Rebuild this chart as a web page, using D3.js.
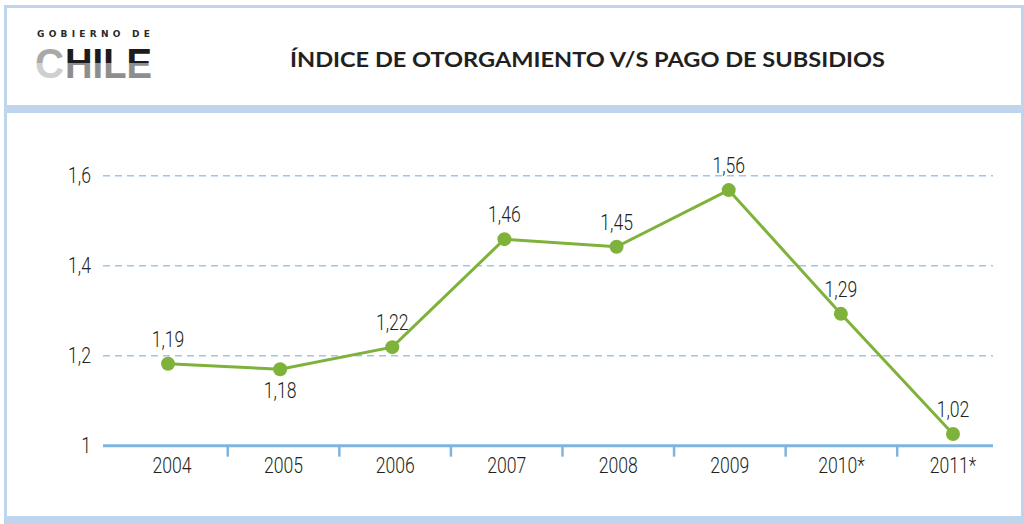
<!DOCTYPE html>
<html>
<head>
<meta charset="utf-8">
<script src="https://cdn.jsdelivr.net/npm/d3@7"></script>
<style>
  html, body { margin: 0; padding: 0; background: #fff; }
  svg { display: block; }
</style>
</head>
<body>
<div id="chart"></div>
<script>
// data
const years = ['2004', '2005', '2006', '2007', '2008', '2009', '2010*', '2011*'];
const indexValues = [1.182, 1.170, 1.219, 1.459, 1.442, 1.568, 1.293, 1.026];
const valueLabels = ['1,19', '1,18', '1,22', '1,46', '1,45', '1,56', '1,29', '1,02'];
const labelSide = ['above', 'below', 'above', 'above', 'above', 'above', 'above', 'above'];
const yTicks = [1, 1.2, 1.4, 1.6];
const yTickLabels = ['1', '1,2', '1,4', '1,6'];
const title = 'ÍNDICE DE OTORGAMIENTO V/S PAGO DE SUBSIDIOS';

function whenDocumentLoaded(action) {
    if (document.readyState === "loading") {
        document.addEventListener("DOMContentLoaded", action);
    } else {
        action();
    }
}

const W = 1024, H = 524;
const frameBlue = '#bed5ed';
const gridBlue = '#9cc7ec';
const axisBlue = '#80b4e0';
const green = '#7fb23b';
const ink = '#231f20';
const numFont = 'Roboto, "DejaVu Sans", sans-serif';

// narrow light text, like the condensed face of the original
function narrowText(parent, x, y, str, anchor, size) {
    return parent.append('g')
        .attr('transform', 'translate(' + x + ',' + y + ') scale(0.8,1)')
        .append('text')
        .attr('x', 0)
        .attr('y', 0)
        .attr('text-anchor', anchor)
        .style('font-family', numFont)
        .style('font-weight', 300)
        .style('font-size', size + 'px')
        .attr('fill', ink)
        .text(str);
}

function drawChart() {
    const svg = d3.select('#chart')
        .append('svg')
        .attr('width', W)
        .attr('height', H);

    // frame: blue background, white header and plot boxes
    svg.append('rect')
        .attr('x', 4).attr('y', 5)
        .attr('width', W - 4).attr('height', H - 5)
        .attr('fill', frameBlue);
    svg.append('rect')
        .attr('x', 7).attr('y', 8)
        .attr('width', 1014).attr('height', 97)
        .attr('fill', '#fff');
    svg.append('rect')
        .attr('x', 7).attr('y', 113)
        .attr('width', 1014).attr('height', 403)
        .attr('fill', '#fff');

    // logo
    const defs = svg.append('defs');
    const gBlack = defs.append('linearGradient')
        .attr('id', 'hileFill')
        .attr('gradientUnits', 'userSpaceOnUse')
        .attr('x1', 0).attr('y1', 47).attr('x2', 0).attr('y2', 78);
    gBlack.append('stop').attr('offset', '0.5').attr('stop-color', '#1c1c1c');
    gBlack.append('stop').attr('offset', '0.5').attr('stop-color', '#8e8e8e');
    const gGrey = defs.append('linearGradient')
        .attr('id', 'cFill')
        .attr('gradientUnits', 'userSpaceOnUse')
        .attr('x1', 0).attr('y1', 47).attr('x2', 0).attr('y2', 78);
    gGrey.append('stop').attr('offset', '0.5').attr('stop-color', '#a9a9a9');
    gGrey.append('stop').attr('offset', '0.5').attr('stop-color', '#cfcfcf');

    svg.append('text')
        .attr('x', 37).attr('y', 36.5)
        .attr('textLength', 113)
        .attr('lengthAdjust', 'spacing')
        .style('font-family', '"DejaVu Sans", sans-serif')
        .style('font-weight', 'bold')
        .style('font-size', '9px')
        .attr('fill', '#2a2a2a')
        .text('GOBIERNO DE');

    const logoFont = '"Liberation Sans", Arial, sans-serif';
    svg.append('text')
        .attr('x', 35).attr('y', 78)
        .attr('textLength', 29)
        .attr('lengthAdjust', 'spacingAndGlyphs')
        .style('font-family', logoFont)
        .style('font-weight', 'bold')
        .style('font-size', '43px')
        .attr('fill', 'url(#cFill)')
        .text('C');
    svg.append('text')
        .attr('x', 65).attr('y', 78)
        .attr('textLength', 87)
        .attr('lengthAdjust', 'spacingAndGlyphs')
        .style('font-family', logoFont)
        .style('font-weight', 'bold')
        .style('font-size', '43px')
        .attr('fill', 'url(#hileFill)')
        .text('HILE');

    // title
    svg.append('text')
        .attr('x', 290).attr('y', 67)
        .attr('textLength', 595)
        .attr('lengthAdjust', 'spacingAndGlyphs')
        .style('font-family', 'Lato, "Open Sans", sans-serif')
        .style('font-weight', 'bold')
        .style('font-size', '20px')
        .attr('fill', ink)
        .text(title);

    // scales
    const x = d3.scalePoint()
        .domain(years)
        .range([168, 953]);
    const xLabel = d3.scalePoint()
        .domain(years)
        .range([172, 953]);
    const y = d3.scaleLinear()
        .domain([1, 1.6])
        .range([445.7, 175.7]);

    const plotLeft = 103, plotRight = 993;

    // dashed grid
    svg.append('g')
        .selectAll('line')
        .data(yTicks.filter(d => d > 1))
        .enter()
        .append('line')
        .attr('x1', plotLeft)
        .attr('x2', plotRight)
        .attr('y1', d => y(d))
        .attr('y2', d => y(d))
        .attr('stroke', gridBlue)
        .attr('stroke-width', 1.6)
        .attr('stroke-dasharray', '7 5');

    // y labels
    const yLab = svg.append('g');
    yTicks.forEach((t, i) => {
        narrowText(yLab, 91, y(t) + 7, yTickLabels[i], 'end', 22);
    });

    // x axis line and separator ticks
    svg.append('line')
        .attr('x1', plotLeft).attr('x2', plotRight)
        .attr('y1', y(1)).attr('y2', y(1))
        .attr('stroke', axisBlue)
        .attr('stroke-width', 3);

    const seps = years.slice(1).map((yr, i) => (xLabel(years[i]) + xLabel(yr)) / 2);
    svg.append('g')
        .selectAll('line')
        .data(seps)
        .enter()
        .append('line')
        .attr('x1', d => d).attr('x2', d => d)
        .attr('y1', y(1)).attr('y2', y(1) + 11)
        .attr('stroke', axisBlue)
        .attr('stroke-width', 2.5);

    const xLab = svg.append('g');
    years.forEach(yr => {
        narrowText(xLab, xLabel(yr), 473, yr, 'middle', 22);
    });

    // series line
    const line = d3.line()
        .x((d, i) => x(years[i]))
        .y(d => y(d));

    svg.append('path')
        .datum(indexValues)
        .attr('d', line)
        .attr('fill', 'none')
        .attr('stroke', green)
        .attr('stroke-width', 3);

    svg.append('g')
        .selectAll('circle')
        .data(indexValues)
        .enter()
        .append('circle')
        .attr('cx', (d, i) => x(years[i]))
        .attr('cy', d => y(d))
        .attr('r', 7)
        .attr('fill', green);

    // value labels
    const vLab = svg.append('g');
    indexValues.forEach((v, i) => {
        const px = x(years[i]);
        const py = y(v);
        const ly = labelSide[i] === 'below' ? py + 29 : py - 17;
        narrowText(vLab, px, ly, valueLabels[i], 'middle', 22);
    });
}

whenDocumentLoaded(() => {
    drawChart();
});
</script>
</body>
</html>
